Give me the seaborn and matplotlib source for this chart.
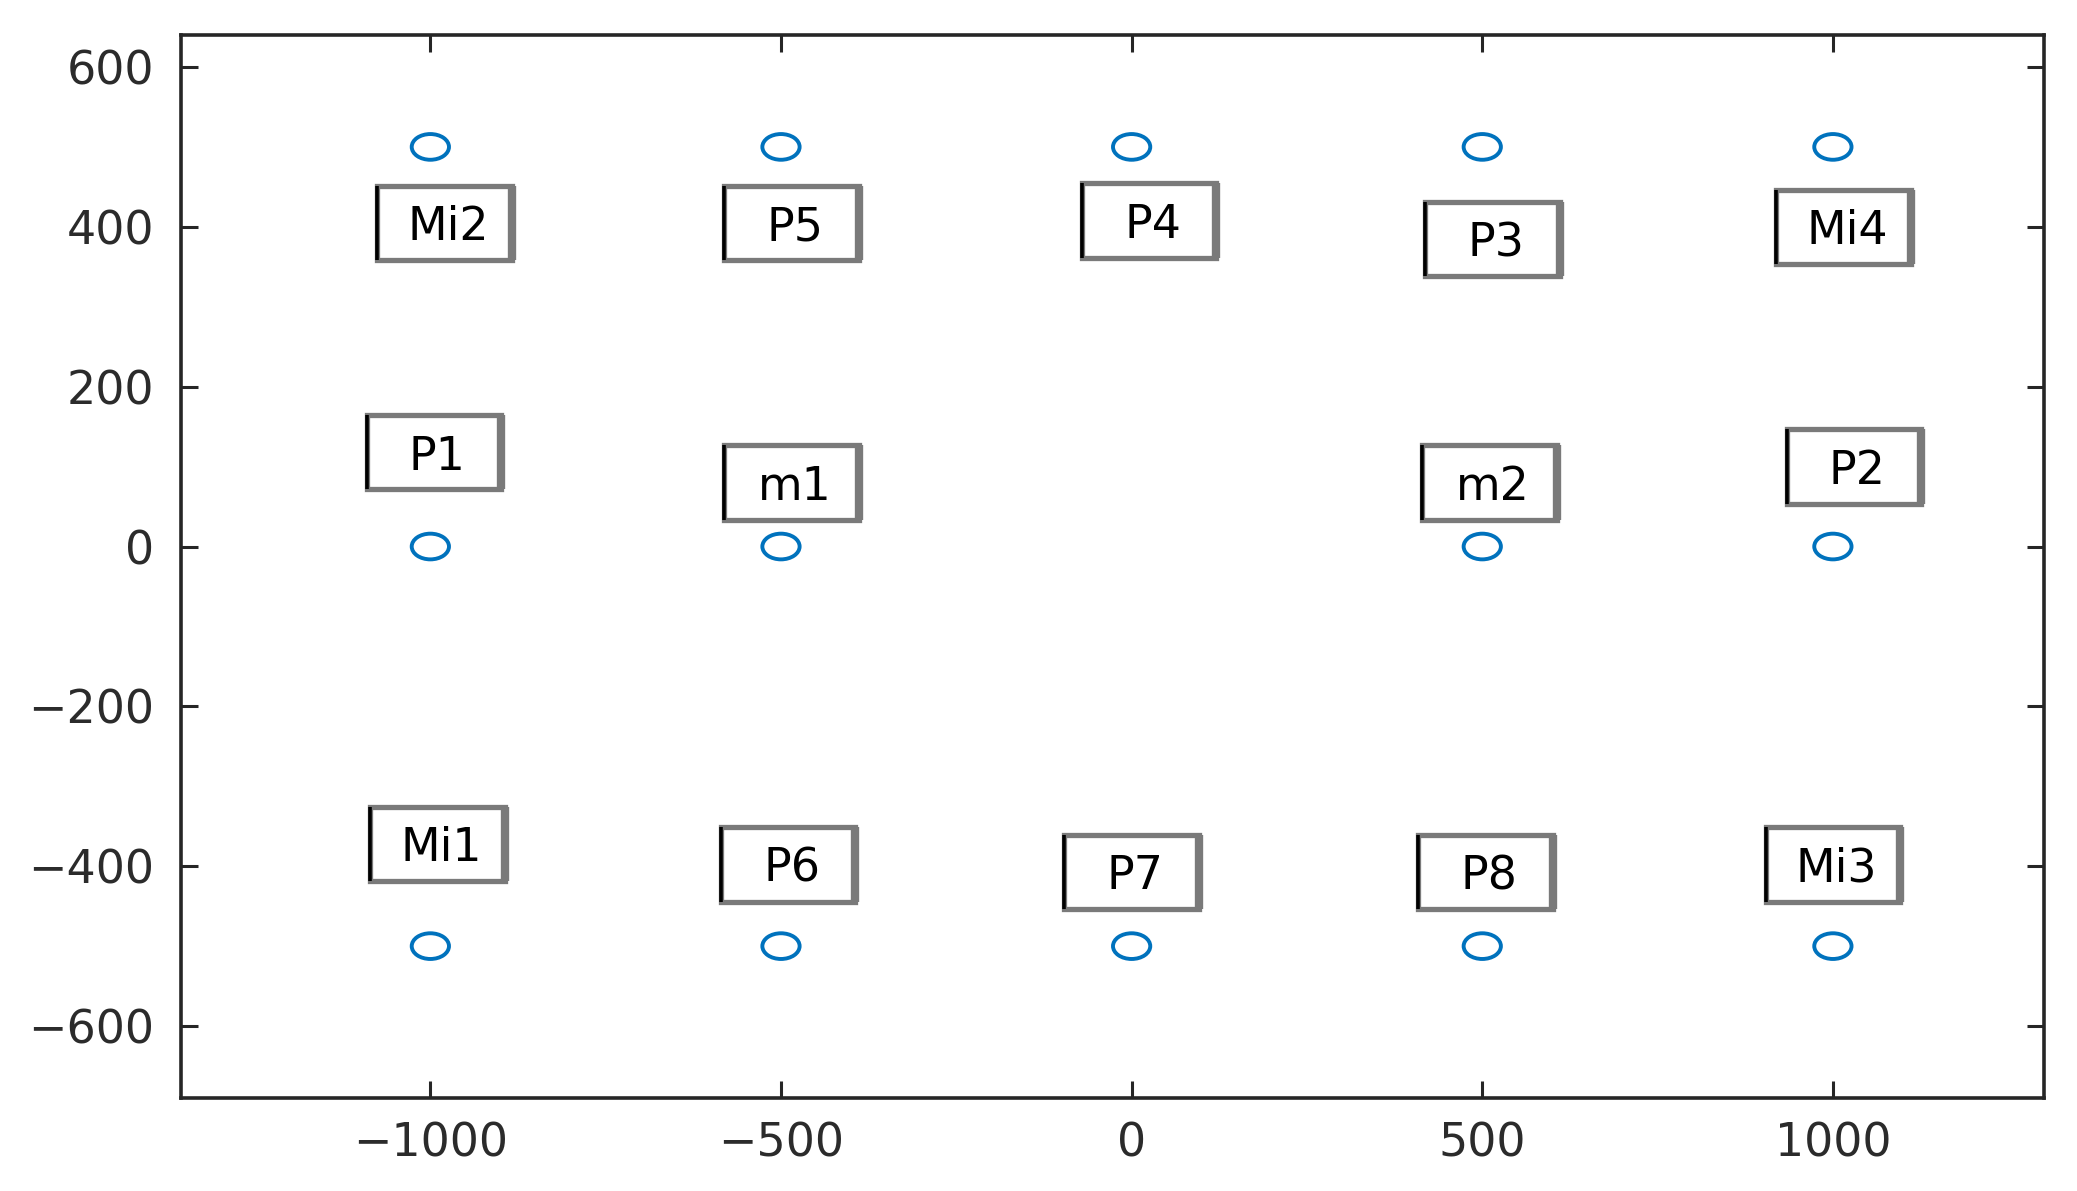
import numpy as np
import matplotlib
matplotlib.use("Agg")
import matplotlib.pyplot as plt
from matplotlib.path import Path
from matplotlib.patches import Rectangle
from matplotlib.transforms import Affine2D
import seaborn as sns

# measurement points (open circles)
point_x = [-1000, -500, 0, 500, 1000, -1000, -500, 500, 1000, -1000, -500, 0, 500, 1000]
point_y = [500, 500, 500, 500, 500, 0, 0, 0, 0, -500, -500, -500, -500, -500]

# boxed labels
label_names = ["Mi2", "P5", "P4", "P3", "Mi4", "P1", "m1", "m2", "P2",
               "Mi1", "P6", "P7", "P8", "Mi3"]
label_x = [-980, -485, 25, 515, 1015, -995, -485, 510, 1030, -990, -490, 0, 505, 1000]
label_y = [405, 405, 408, 385, 400, 118, 80, 80, 100, -372, -398, -407, -407, -398]

x_ticks = [-1000, -500, 0, 500, 1000]
y_ticks = [-600, -400, -200, 0, 200, 400, 600]

BOX_W = 192
BOX_H = 93
AXIS_COLOR = "#262626"


def main():
    sns.set_theme(style="ticks")
    plt.rcParams["font.family"] = ["DejaVu Sans"]

    fig = plt.figure(figsize=(20.77, 11.91), dpi=100)
    ax = fig.add_axes([0.0870, 0.0781, 0.8971, 0.8925])

    # slightly wide ellipse marker, as in the source image
    ellipse = Path.unit_circle().transformed(Affine2D().scale(1.45, 1.0))

    sns.scatterplot(

        x=point_x, y=point_y, ax=ax, marker=ellipse, s=720,
        facecolor="none", edgecolor="#0072BD", linewidth=2.8, legend=False,

    )

    for name, lx, ly in zip(label_names, label_x, label_y):

        x0 = lx - BOX_W / 2
        y0 = ly - BOX_H / 2

        ax.add_patch(Rectangle((x0, y0), BOX_W, BOX_H, facecolor="white",
                               edgecolor="#7a7a7a", linewidth=3.8, zorder=3))
        ax.vlines(x0, y0, y0 + BOX_H, color="black", linewidth=2.6, zorder=4)
        ax.vlines(x0 + BOX_W, y0, y0 + BOX_H, color="#7a7a7a", linewidth=6, zorder=4)
        ax.text(lx + 5, ly - 6, name, ha="center", va="center",
                fontsize=33, color="black", zorder=5)

    ax.set_xlim(-1356, 1301)
    ax.set_ylim(-690, 640)
    ax.set_xticks(x_ticks)
    ax.set_yticks(y_ticks)
    ax.set_xticklabels([str(v).replace("-", "\u2212") for v in x_ticks])
    ax.set_yticklabels([str(v).replace("-", "\u2212") for v in y_ticks])

    ax.tick_params(direction="in", length=12, width=2.2, color=AXIS_COLOR,
                   labelsize=33, labelcolor="#2b2b2b",
                   top=True, right=True)
    ax.tick_params(axis="x", pad=17)
    ax.tick_params(axis="y", pad=19)

    for spine in ax.spines.values():

        spine.set_visible(True)
        spine.set_color(AXIS_COLOR)
        spine.set_linewidth(2.6)

    ax.set_xlabel("")
    ax.set_ylabel("")

    fig.savefig("out.png", dpi=100, facecolor="white")
    plt.close(fig)


if __name__ == "__main__":
    main()
